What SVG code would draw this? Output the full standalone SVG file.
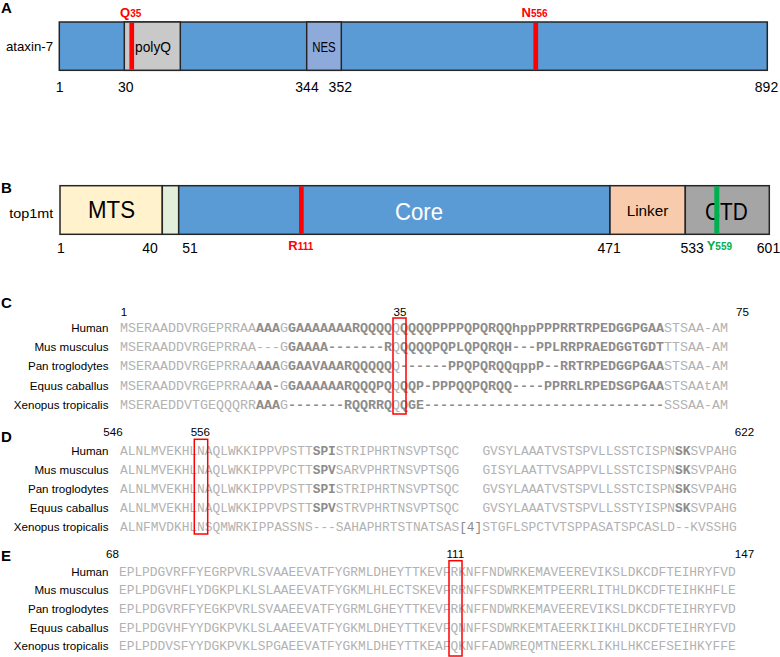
<svg xmlns="http://www.w3.org/2000/svg" width="780" height="657" viewBox="0 0 780 657">
<style>
text{font-family:"Liberation Sans",Arial,sans-serif;}
.pl{font-size:15px;font-weight:bold;fill:#000;}
.lab{font-size:13.5px;fill:#000;}
.num{font-size:14px;fill:#000;text-anchor:middle;}
.dom{stroke:#262626;stroke-width:1.5;}
.mk{font-weight:bold;font-size:13px;}
.mks{font-weight:bold;font-size:10px;}
.sp{font-size:11.6px;fill:#000;text-anchor:end;}
.hd{font-size:11.6px;fill:#000;text-anchor:middle;}
.sqc{font-family:"Liberation Mono","Courier New",monospace;font-size:13.33px;fill:#b2b2b2;}
.sqd{font-family:"Liberation Mono","Courier New",monospace;font-size:12.85px;fill:#b2b2b2;}
.dk{fill:#8c8c8c;font-weight:bold;}
.box{fill:none;stroke:#ff0000;stroke-width:1.5;}
</style>

<!-- Panel A -->
<g id="panelA">
  <text class="pl" x="1" y="13">A</text>
  <text class="lab" x="53" y="51" text-anchor="end" textLength="47" lengthAdjust="spacingAndGlyphs">ataxin-7</text>
  <g id="ataxin7-bar">
    <rect class="dom" x="59.3" y="22" width="708" height="48.3" fill="#5b9bd5"/>
  </g>
  <g id="polyQ">
    <rect class="dom" x="124.3" y="22" width="56" height="48.3" fill="#c9c9c9"/>
    <text x="153" y="51.5" font-size="14" text-anchor="middle" textLength="36" lengthAdjust="spacingAndGlyphs">polyQ</text>
  </g>
  <g id="NES">
    <rect class="dom" x="306.7" y="22" width="34.6" height="48.3" fill="#8eaadb"/>
    <text x="324" y="51.5" font-size="14" text-anchor="middle" textLength="23.5" lengthAdjust="spacingAndGlyphs">NES</text>
  </g>
  <g id="Q35">
    <rect x="129.4" y="22.7" width="4.7" height="47" fill="#ff0000"/>
    <text x="120" y="16.7" fill="#ff0000"><tspan class="mk">Q</tspan><tspan class="mks">35</tspan></text>
  </g>
  <g id="N556">
    <rect x="533.4" y="22.7" width="4.7" height="47" fill="#ff0000"/>
    <text x="521.5" y="16.7" fill="#ff0000"><tspan class="mk">N</tspan><tspan class="mks" font-size="10.5">556</tspan></text>
  </g>
  <text class="num" x="59.7" y="91.5">1</text>
  <text class="num" x="125.8" y="91.5">30</text>
  <text class="num" x="307" y="91.5">344</text>
  <text class="num" x="340.3" y="91.5">352</text>
  <text class="num" x="766.5" y="91.5">892</text>
</g>

<!-- Panel B -->
<g id="panelB">
  <text class="pl" x="1" y="192.7">B</text>
  <text class="lab" x="53.3" y="218" text-anchor="end" textLength="44" lengthAdjust="spacingAndGlyphs">top1mt</text>
  <g id="MTS">
    <rect class="dom" x="60" y="185.7" width="102.3" height="48.6" fill="#fff2cc"/>
    <text x="111.5" y="218" font-size="23" text-anchor="middle" textLength="47" lengthAdjust="spacingAndGlyphs">MTS</text>
  </g>
  <g id="seg41-50">
    <rect class="dom" x="162.3" y="185.7" width="16.4" height="48.6" fill="#e2efda"/>
  </g>
  <g id="Core">
    <rect class="dom" x="178.7" y="185.7" width="431.3" height="48.6" fill="#5b9bd5"/>
    <text x="419" y="220" font-size="23" fill="#ffffff" text-anchor="middle" textLength="48" lengthAdjust="spacingAndGlyphs">Core</text>
  </g>
  <g id="Linker">
    <rect class="dom" x="610" y="185.7" width="75.3" height="48.6" fill="#f8cbad"/>
    <text x="647.5" y="216" font-size="15" text-anchor="middle" textLength="41.6" lengthAdjust="spacingAndGlyphs">Linker</text>
  </g>
  <g id="CTD">
    <rect class="dom" x="685.3" y="185.7" width="84" height="48.6" fill="#a5a5a5"/>
    <text x="726.3" y="220" font-size="23" text-anchor="middle" textLength="42.7" lengthAdjust="spacingAndGlyphs">CTD</text>
  </g>
  <g id="R111">
    <rect x="299" y="186.4" width="4.7" height="47.2" fill="#ff0000"/>
    <text x="288.3" y="250" fill="#ff0000"><tspan class="mk">R</tspan><tspan class="mks">111</tspan></text>
  </g>
  <g id="Y559">
    <rect x="714.3" y="186.4" width="5" height="47.2" fill="#00b050"/>
    <text x="706.7" y="250" fill="#00b050"><tspan class="mk">Y</tspan><tspan class="mks">559</tspan></text>
  </g>
  <text class="num" x="61" y="253">1</text>
  <text class="num" x="150" y="253">40</text>
  <text class="num" x="190" y="253">51</text>
  <text class="num" x="609.2" y="253">471</text>
  <text class="num" x="692.2" y="253">533</text>
  <text class="num" x="768.5" y="253">601</text>
</g>

<!-- Panel C -->
<g id="panelC">
  <text class="pl" x="1" y="308">C</text>
  <text class="hd" x="124" y="316">1</text>
  <text class="hd" x="400" y="316">35</text>
  <text class="hd" x="742.5" y="316">75</text>
  <text class="sp" x="108.5" y="332">Human</text>
  <text class="sp" x="108.5" y="351.2">Mus musculus</text>
  <text class="sp" x="108.5" y="370.4">Pan troglodytes</text>
  <text class="sp" x="108.5" y="389.6">Equus caballus</text>
  <text class="sp" x="108.5" y="408.8">Xenopus tropicalis</text>
  <text class="sqc" x="120" y="332">MSERAADDVRGEPRRAA<tspan class="dk">AAA</tspan>G<tspan class="dk">GAAAAAAARQQQQ</tspan>Q<tspan class="dk">QQQQPPPPQPQRQQhppPPPRRTRPEDGGPGAA</tspan>STSAA-AM</text>
  <text class="sqc" x="120" y="351.2">MSERAADDVRGEPRRAA---G<tspan class="dk">GAAAA-------R</tspan>Q<tspan class="dk">QQQQPQPLQPQRQH---PPLRRPRAEDGGTGDT</tspan>TTSAA-AM</text>
  <text class="sqc" x="120" y="370.4">MSERAADDVRGEPRRAA<tspan class="dk">AAA</tspan>G<tspan class="dk">GAAVAAARQQQQQ</tspan>Q<tspan class="dk">------PPQPQRQQqppP--RRTRPEDGGPGAA</tspan>STSAA-AM</text>
  <text class="sqc" x="120" y="389.6">MSERAADDVRGEPRRAA<tspan class="dk">AA-</tspan>G<tspan class="dk">GAAAAAARQQQPQ</tspan>Q<tspan class="dk">QQP-PPPQQPQRQQ----PPRRLRPEDSGPGAA</tspan>STSAAtAM</text>
  <text class="sqc" x="120" y="408.8">MSERAEDDVTGEQQQRR<tspan class="dk">AAA</tspan>G<tspan class="dk">-------RQQRRQ</tspan>Q<tspan class="dk">QGE------------------------------</tspan>SSSAA-AM</text>
  <rect class="box" x="393" y="318" width="13" height="96"/>
</g>

<!-- Panel D -->
<g id="panelD">
  <text class="pl" x="1" y="441.5">D</text>
  <text class="hd" x="113" y="436">546</text>
  <text class="hd" x="200.3" y="436">556</text>
  <text class="hd" x="744.5" y="436">622</text>
  <text class="sp" x="108.5" y="455">Human</text>
  <text class="sp" x="108.5" y="474">Mus musculus</text>
  <text class="sp" x="108.5" y="493">Pan troglodytes</text>
  <text class="sp" x="108.5" y="512">Equus caballus</text>
  <text class="sp" x="108.5" y="531">Xenopus tropicalis</text>
  <text class="sqd" x="120" y="455">ALNLMVEKHLNAQLWKKIPPVPSTT<tspan class="dk">SPI</tspan>STRIPHRTNSVPTSQC<tspan x="482.4">GVSYLAAATVSTSPVLLSSTCISPN</tspan><tspan class="dk">SK</tspan>SVPAHG</text>
  <text class="sqd" x="120" y="474">ALNLMVEKHLNAQLWKKIPPVPCTT<tspan class="dk">SPV</tspan>SARVPHRTNSVPTSQG<tspan x="482.4">GISYLAATTVSAPPVLLSSTCISPN</tspan><tspan class="dk">SK</tspan>SVPAHG</text>
  <text class="sqd" x="120" y="493">ALNLMVEKHLNAQLWKKIPPVPSTT<tspan class="dk">SPI</tspan>STRIPHRTNSVPTSQC<tspan x="482.4">GVSYLAAATVSTSPVLLSSTCISPN</tspan><tspan class="dk">SK</tspan>SVPAHG</text>
  <text class="sqd" x="120" y="512">ALNLMVEKHLNAQLWKKIPPVPSTT<tspan class="dk">SPV</tspan>STRVPHRTNSVPTSQC<tspan x="482.4">GVSYLAAATVSTSPVLLSSTYISPN</tspan><tspan class="dk">SK</tspan>SVPAHG</text>
  <text class="sqd" x="120" y="531">ALNFMVDKHLNSQMWRKIPPASSNS---SAHAPHRTSTNATSAS<tspan fill="#8a8a8a">[4]</tspan>STGFLSPCTVTSPPASATSPCASLD--KVSSHG</text>
  <rect class="box" x="194.3" y="439.3" width="13.4" height="94.7"/>
</g>

<!-- Panel E -->
<g id="panelE">
  <text class="pl" x="1" y="560.5">E</text>
  <text class="hd" x="112.5" y="558">68</text>
  <text class="hd" x="455.3" y="558">111</text>
  <text class="hd" x="744.5" y="558">147</text>
  <text class="sp" x="108.5" y="575.5">Human</text>
  <text class="sp" x="108.5" y="594.2">Mus musculus</text>
  <text class="sp" x="108.5" y="612.9">Pan troglodytes</text>
  <text class="sp" x="108.5" y="631.6">Equus caballus</text>
  <text class="sp" x="108.5" y="650.3">Xenopus tropicalis</text>
  <text class="sqd" x="119" y="575.5">EPLPDGVRFFYEGRPVRLSVAAEEVATFYGRMLDHEYTTKEVFRKNFFNDWRKEMAVEEREVIKSLDKCDFTEIHRYFVD</text>
  <text class="sqd" x="119" y="594.2">EPLPDGVHFLYDGKPLKLSLAAEEVATFYGKMLHLECTSKEVFRRNFFSDWRKEMTPEERRLITHLDKCDFTEIHKHFLE</text>
  <text class="sqd" x="119" y="612.9">EPLPDGVRFFYEGKPVRLSVAAEEVATFYGRMLGHEYTTKEVFRKNFFNDWRKEMAVEEREVIKSLDKCDFTEIHRYFVD</text>
  <text class="sqd" x="119" y="631.6">EPLPDGVHFYYDGKPVKLSLAAEEVATFYGKMLDHEYTTKEVFQNNFFSDWRKEMTAEERKIIKHLDKCDFTEIHRYFVD</text>
  <text class="sqd" x="119" y="650.3">EPLPDDVSFYYDGKPVKLSPGAEEVATFYGKMLDHEYTTKEAFQKNFFADWREQMTNEERKLIKHLHKCEFSEIHKYFFE</text>
  <rect class="box" x="449" y="560.7" width="13" height="95.3"/>
</g>
</svg>
